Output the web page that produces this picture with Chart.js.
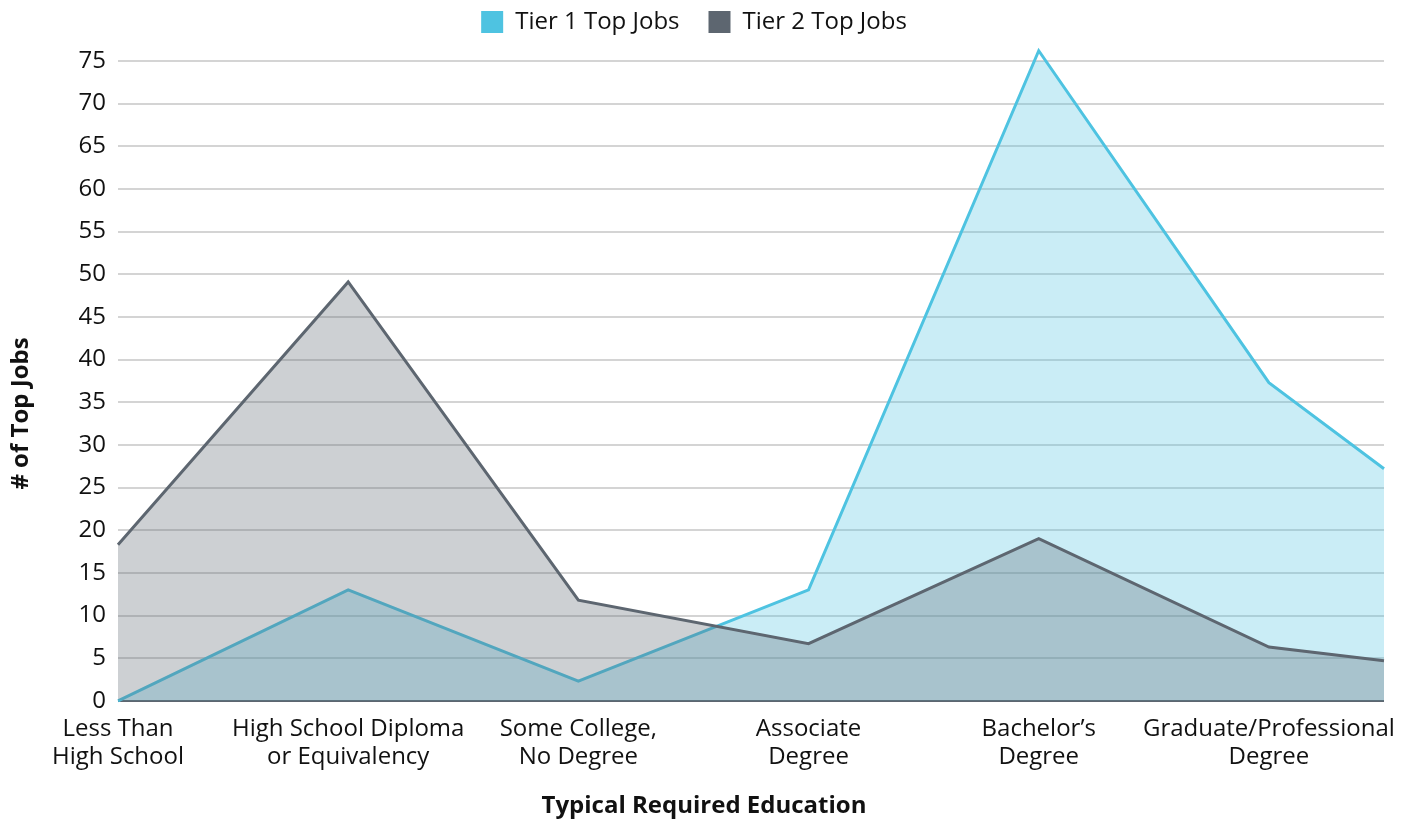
<!DOCTYPE html>
<html>
<head>
<meta charset="utf-8">
<script src="https://cdn.jsdelivr.net/npm/chart.js@4"></script>
<style>
  html, body { margin: 0; padding: 0; background: #fff; }
  #wrap { width: 1408px; height: 823px; }
</style>
</head>
<body>
<div id="wrap"><canvas id="myChart"></canvas></div>
<script>
// Category labels (one per education level)
const educationLabels = [
  ["Less Than", "High School"],
  ["High School Diploma", "or Equivalency"],
  ["Some College,", "No Degree"],
  ["Associate", "Degree"],
  ["Bachelor’s", "Degree"],
  ["Graduate/Professional", "Degree"]
];
// Position of each point along the category axis (last point sits at the right edge)
const xPositions = [0, 1, 2, 3, 4, 5, 5.5];
const tier1Values = [0, 13, 2.3, 13, 76.2, 37.3, 27.2];
const tier2Values = [18.3, 49.1, 11.8, 6.7, 19, 6.3, 4.7];
const yTicks = [0, 5, 10, 15, 20, 25, 30, 35, 40, 45, 50, 55, 60, 65, 70, 75];

const FONT = "'Open Sans', sans-serif";
const tier1Color = "rgb(78, 195, 225)";
const tier2Color = "rgb(93, 102, 112)";

const toPoints = vals => vals.map((v, i) => ({ x: xPositions[i], y: v }));

// Draw the axis titles centred on the whole canvas
const axisTitles = {
  id: "axisTitles",
  afterDraw(chart) {
    const c = chart.ctx;
    c.save();
    c.font = "bold 24px " + FONT;
    c.fillStyle = "#111";
    c.textAlign = "center";
    c.textBaseline = "middle";
    c.fillText("Typical Required Education", chart.width / 2, chart.height - 17);
    c.translate(21, chart.height / 2 + 2);
    c.rotate(-Math.PI / 2);
    c.fillText("# of Top Jobs", 0, 0);
    c.restore();
  }
};

// Adjust the room under the legend
const legendGap = {
  id: "legendGap",
  beforeInit(chart) {
    const fit = chart.legend.fit;
    chart.legend.fit = function () {
      fit.bind(chart.legend)();
      this.height += 17;
    };
  }
};

const ctx = document.getElementById("myChart").getContext("2d");
new Chart(ctx, {
  type: "line",
  data: {
    datasets: [
      {
        label: "Tier 1 Top Jobs",
        data: toPoints(tier1Values),
        borderColor: tier1Color,
        backgroundColor: "rgba(78, 195, 225, 0.3)",
        borderWidth: 3,
        pointRadius: 0,
        fill: "origin",
        clip: false,
        order: 1
      },
      {
        label: "Tier 2 Top Jobs",
        data: toPoints(tier2Values),
        borderColor: tier2Color,
        backgroundColor: "rgba(93, 102, 112, 0.31)",
        borderWidth: 3,
        pointRadius: 0,
        fill: "origin",
        clip: false,
        order: 0
      }
    ]
  },
  options: {
    responsive: true,
    maintainAspectRatio: false,
    animation: false,
    layout: { padding: { left: 4, right: 24, bottom: 46, top: -19 } },
    plugins: {
      legend: {
        display: true,
        position: "top",
        labels: {
          font: { family: FONT, size: 24 },
          color: "#111",
          boxWidth: 22,
          boxHeight: 22,
          padding: 29,
          sort: (a, b) => a.datasetIndex - b.datasetIndex,
          generateLabels: chart =>
            Chart.defaults.plugins.legend.labels.generateLabels(chart).map(l => ({
              ...l, fillStyle: l.strokeStyle, lineWidth: 0
            }))
        }
      },
      tooltip: { enabled: false }
    },
    scales: {
      x: {
        type: "linear",
        min: 0,
        max: xPositions[xPositions.length - 1],
        afterBuildTicks: scale => {
          scale.ticks = educationLabels.map((l, i) => ({ value: i }));
        },
        ticks: {
          autoSkip: false,
          maxRotation: 0,
          padding: 6,
          color: "#111",
          font: { family: FONT, size: 24, lineHeight: 1.17 },
          callback: value => educationLabels[value]
        },
        grid: { display: false },
        border: { display: false }
      },
      y: {
        min: 0,
        max: 75,
        afterBuildTicks: scale => {
          scale.ticks = yTicks.map(v => ({ value: v }));
        },
        afterFit: scale => {
          scale.width = 114;
        },
        ticks: {
          padding: 12,
          color: "#111",
          font: { family: FONT, size: 24 }
        },
        grid: {
          color: c => (c.tick && c.tick.value === 0 ? tier2Color : "#d4d4d4"),
          lineWidth: 2,
          drawTicks: false
        },
        border: { display: false }
      }
    }
  },
  plugins: [axisTitles, legendGap]
});
</script>
</body>
</html>
